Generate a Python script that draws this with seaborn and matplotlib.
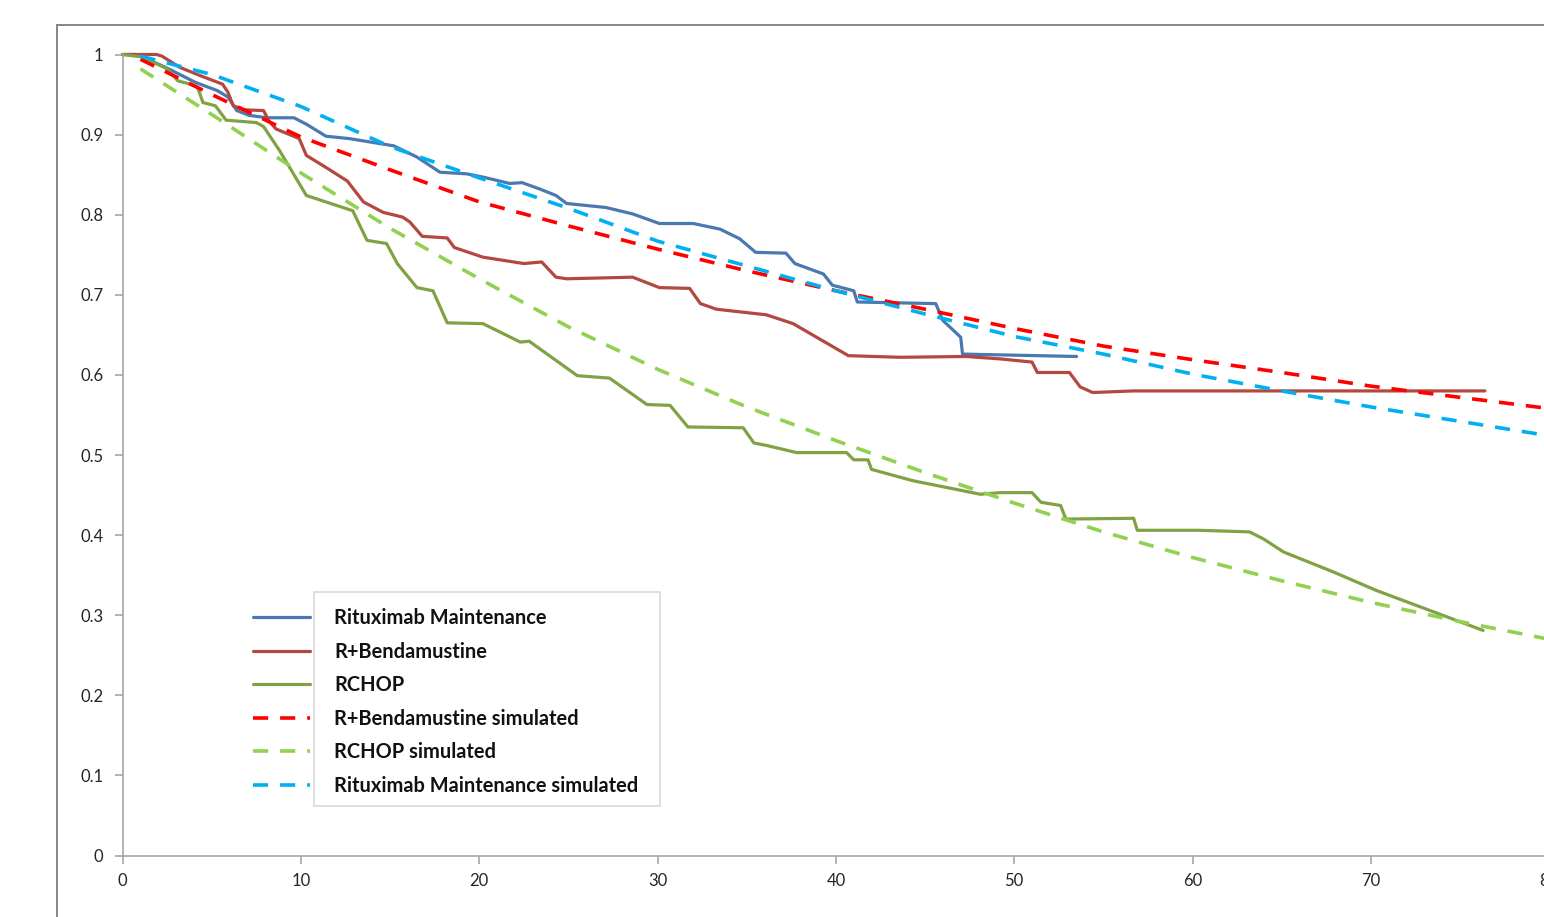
import numpy as np
import seaborn as sns
import matplotlib
matplotlib.use("Agg")
import matplotlib.pyplot as plt
from matplotlib.patches import Rectangle

rm_month = [0, 0.8, 2.4, 4.1, 5.3, 5.9, 6.4, 7.1, 8.1, 9.6, 10.3, 11.4, 12.7, 15.2, 16.5,
            17.8, 19.3, 20.2, 21.7, 22.4, 23.4, 24.3, 24.9, 27.1, 28.6, 30.1, 32.0, 33.5,
            34.6, 35.5, 37.2, 37.7, 39.3, 39.8, 41.0, 41.2, 45.6, 46.0, 47.0, 47.1, 53.5]
rm_surv = [1.0, 1.0, 0.984, 0.965, 0.955, 0.947, 0.930, 0.924, 0.921, 0.921, 0.913, 0.898,
           0.895, 0.886, 0.872, 0.853, 0.851, 0.847, 0.839, 0.840, 0.832, 0.824, 0.814,
           0.809, 0.801, 0.789, 0.789, 0.782, 0.770, 0.753, 0.752, 0.739, 0.726, 0.712,
           0.705, 0.691, 0.689, 0.668, 0.647, 0.626, 0.623]

rb_month = [0, 1.9, 2.2, 3.2, 4.3, 5.6, 5.9, 6.2, 6.8, 7.9, 8.2, 8.6, 9.9, 10.3, 11.4,
            12.6, 13.5, 14.6, 15.7, 16.1, 16.8, 18.2, 18.6, 20.2, 22.5, 23.5, 24.3, 24.9,
            28.6, 30.1, 31.8, 32.4, 33.3, 36.1, 37.6, 40.7, 43.6, 47.3, 49.2, 51.0, 51.3,
            53.1, 53.7, 54.4, 56.7, 76.4]
rb_surv = [1.0, 1.0, 0.998, 0.984, 0.974, 0.963, 0.953, 0.936, 0.931, 0.930, 0.917, 0.907,
           0.895, 0.874, 0.859, 0.842, 0.816, 0.803, 0.797, 0.791, 0.773, 0.771, 0.759,
           0.747, 0.739, 0.741, 0.722, 0.720, 0.722, 0.709, 0.708, 0.689, 0.682, 0.675,
           0.664, 0.624, 0.622, 0.623, 0.620, 0.616, 0.603, 0.603, 0.585, 0.578, 0.580, 0.580]

rchop_month = [0, 1.1, 2.5, 3.1, 3.8, 4.2, 4.5, 5.2, 5.8, 7.5, 7.9, 8.8, 10.3, 11.8, 12.9,
               13.7, 14.8, 15.4, 16.5, 17.4, 18.2, 20.2, 22.3, 22.8, 25.5, 27.3, 29.4,
               30.7, 31.7, 34.8, 35.4, 36.1, 37.8, 40.6, 41.0, 41.8, 42.0, 44.3, 48.1,
               49.2, 51.0, 51.5, 52.6, 52.9, 56.7, 56.9, 60.4, 63.2, 64.0, 65.1, 67.9,
               70.3, 76.3]
rchop_surv = [1.0, 0.997, 0.982, 0.967, 0.963, 0.959, 0.940, 0.936, 0.918, 0.915, 0.910,
              0.880, 0.824, 0.813, 0.805, 0.768, 0.764, 0.739, 0.709, 0.705, 0.665, 0.664,
              0.641, 0.642, 0.599, 0.596, 0.563, 0.562, 0.535, 0.534, 0.515, 0.512, 0.503,
              0.503, 0.494, 0.494, 0.482, 0.468, 0.451, 0.453, 0.453, 0.441, 0.437, 0.420,
              0.421, 0.406, 0.406, 0.404, 0.395, 0.379, 0.354, 0.331, 0.281]

# simulated curves
sim_month = [1, 5, 10, 15, 20, 25, 30, 35, 40, 45, 50, 55, 60, 65, 70, 75, 80]
rb_sim = [0.994, 0.950, 0.897, 0.856, 0.816, 0.786, 0.757, 0.730, 0.705, 0.682, 0.658,
          0.636, 0.619, 0.603, 0.586, 0.572, 0.558]
rchop_sim = [0.982, 0.925, 0.852, 0.783, 0.720, 0.660, 0.607, 0.560, 0.518, 0.478, 0.440,
             0.404, 0.372, 0.343, 0.316, 0.292, 0.270]
rm_sim = [0.998, 0.975, 0.935, 0.885, 0.846, 0.808, 0.767, 0.736, 0.705, 0.676, 0.648,
          0.626, 0.601, 0.580, 0.560, 0.542, 0.524]

x_ticks = [0, 10, 20, 30, 40, 50, 60, 70, 80]
y_ticks = [0, 0.1, 0.2, 0.3, 0.4, 0.5, 0.6, 0.7, 0.8, 0.9, 1]
y_tick_labels = ["0", "0.1", "0.2", "0.3", "0.4", "0.5", "0.6", "0.7", "0.8", "0.9", "1"]

sns.set_theme(style="white")
plt.rcParams["font.family"] = ["Lato", "DejaVu Sans"]

W, H = 1544, 917
fig = plt.figure(figsize=(W / 100, H / 100), dpi=100)
ax = fig.add_axes([122.7 / W, 61.5 / H, 1426.4 / W, 801 / H])

observed = [
    ("Rituximab Maintenance", rm_month, rm_surv, "#4A78B0"),
    ("R+Bendamustine", rb_month, rb_surv, "#B4473F"),
    ("RCHOP", rchop_month, rchop_surv, "#80A244"),
]
for label, x, y, color in observed:
    sns.lineplot(x=x, y=y, ax=ax, color=color, lw=2.3, label=label,
                 sort=False, estimator=None)

simulated = [
    ("R+Bendamustine simulated", rb_sim, "#FF0000"),
    ("RCHOP simulated", rchop_sim, "#92D050"),
    ("Rituximab Maintenance simulated", rm_sim, "#00B0F0"),
]
for label, y, color in simulated:
    sns.lineplot(x=sim_month, y=y, ax=ax, color=color, lw=2.6, label=label,
                 sort=False, estimator=None)
    ax.lines[-1].set_dashes((4.2, 3.3))

for line in ax.lines:
    line.set_clip_on(False)
    line.set_solid_joinstyle("round")

ax.set_xlim(0, 80)
ax.set_ylim(0, 1)
ax.set_xticks(x_ticks)
ax.set_yticks(y_ticks)
ax.set_yticklabels(y_tick_labels)
ax.set_xlabel("")
ax.set_ylabel("")
ax.set_facecolor("none")

for side in ["top", "right"]:
    ax.spines[side].set_visible(False)
for side in ["left", "bottom"]:
    ax.spines[side].set_color("#A6A6A6")
    ax.spines[side].set_linewidth(1.2)

ax.tick_params(axis="both", which="major", direction="out", length=5.5, width=1.2,
               color="#A6A6A6", labelsize=12, labelcolor="#262626",
               bottom=True, left=True)
ax.tick_params(axis="y", pad=8.5)
ax.tick_params(axis="x", pad=7)

leg = ax.legend(loc="upper left", bbox_to_anchor=(253 / W, (H - 608) / H),
                bbox_transform=fig.transFigure, frameon=False,
                prop={"weight": "bold", "size": 14.4}, handlelength=2.85,
                handletextpad=1.2, labelspacing=0.68, borderpad=0, borderaxespad=0)
for txt in leg.get_texts():
    txt.set_color("#111111")

# legend box (Excel draws it around the labels only) and the outer chart frame
fig.add_artist(Rectangle((314 / W, (H - 806) / H), 346 / W, 214 / H,
                         transform=fig.transFigure, fill=False, ec="#D9D9D9", lw=1.2))
fig.add_artist(Rectangle((57 / W, -0.05), 1.0, (H - 25) / H + 0.05,
                         transform=fig.transFigure, fill=False, ec="#868686", lw=1.4))

fig.savefig("out.png", dpi=100)
